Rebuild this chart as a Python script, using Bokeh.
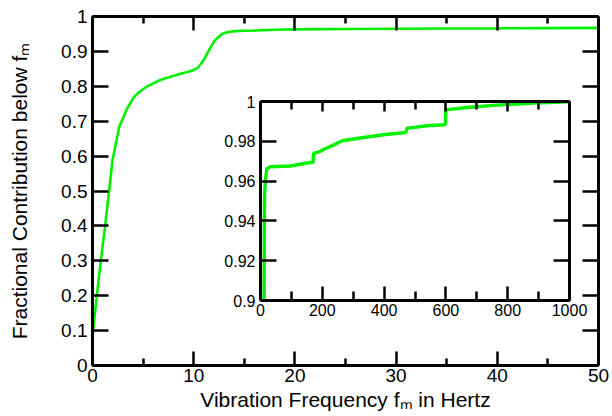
from bokeh.plotting import figure
from bokeh.models import FixedTicker, NumeralTickFormatter, LinearAxis, Range1d
from bokeh.embed import file_html
from bokeh.resources import INLINE

# ---- data ----
main_freq = [0, 0.06, 0.45, 0.82, 1.25, 1.64, 1.97, 2.3, 2.63, 3.0, 3.4, 3.78, 4.1, 4.6,
             5.2, 5.92, 6.7, 7.56, 8.7, 9.4, 10.0, 10.4, 10.7, 11.0, 11.5, 12.0, 12.4,
             12.8, 13.3, 14.1, 15.0, 16.1, 18.0, 20.0, 25.0, 30.0, 35.0, 40.0, 45.0, 50.0]
main_frac = [0.08, 0.10, 0.205, 0.30, 0.40, 0.50, 0.587, 0.635, 0.683, 0.708, 0.735, 0.754,
             0.769, 0.783, 0.796, 0.807, 0.818, 0.826, 0.836, 0.841, 0.847, 0.853, 0.864,
             0.876, 0.903, 0.928, 0.940, 0.950, 0.955, 0.958, 0.959, 0.960, 0.962, 0.963,
             0.964, 0.965, 0.9655, 0.966, 0.9668, 0.9675]

inset_freq = [11.5, 13.0, 16.0, 20.0, 32.0, 97.0, 151.0, 170.0, 172.0, 194.0, 210.0, 237.0,
              264.0, 312.0, 398.0, 470.0, 474.0, 539.0, 598.0, 600.0, 668.0, 777.0, 884.0, 1000.0]
inset_frac = [0.900, 0.952, 0.9605, 0.9662, 0.9672, 0.9676, 0.9691, 0.9694, 0.9739, 0.9750,
              0.9764, 0.9781, 0.9803, 0.9814, 0.9833, 0.9844, 0.9865, 0.9878, 0.9883, 0.9958,
              0.9970, 0.9983, 0.9992, 0.9999]

main_x_ticks = [0, 10, 20, 30, 40, 50]
main_x_minor = [5, 15, 25, 35, 45]
main_y_ticks = [0, 0.1, 0.2, 0.3, 0.4, 0.5, 0.6, 0.7, 0.8, 0.9, 1.0]
inset_x_ticks = [0, 200, 400, 600, 800, 1000]
inset_x_minor = [100, 300, 500, 700, 900]
inset_y_ticks = [0.9, 0.92, 0.94, 0.96, 0.98, 1.0]

x_label = "Vibration Frequency f\u2098 in Hertz"
y_label = "Fractional Contribution below f\u2098"

FONT = "Liberation Sans"
GREEN = "#00f000"


def style_axis(ax, tick_in, minor_in, font_size, standoff, show_labels=True):
    ax.axis_line_color = "black"
    ax.axis_line_width = 3
    ax.major_tick_line_color = "black"
    ax.major_tick_line_width = 2.5
    ax.minor_tick_line_color = "black"
    ax.minor_tick_line_width = 2.5
    ax.major_tick_in = tick_in
    ax.major_tick_out = 0
    ax.minor_tick_in = minor_in
    ax.minor_tick_out = 0
    ax.major_label_text_font = FONT
    ax.major_label_text_font_size = font_size
    ax.major_label_standoff = standoff
    ax.major_label_text_color = "black" if show_labels else None


# ---- main figure ----
p = figure(width=612, height=416, x_range=Range1d(0, 50), y_range=Range1d(0, 1),
           output_backend="svg", toolbar_location=None,
           min_border_left=92, min_border_right=14, min_border_top=16, min_border_bottom=51)
p.grid.visible = False
p.outline_line_color = None
p.background_fill_color = "white"
p.border_fill_color = "white"

p.xaxis.ticker = FixedTicker(ticks=main_x_ticks, minor_ticks=main_x_minor)
p.yaxis.ticker = FixedTicker(ticks=main_y_ticks, minor_ticks=[])
p.yaxis.formatter = NumeralTickFormatter(format="0.[0]")
style_axis(p.xaxis[0], 14, 7, "19px", 3)
style_axis(p.yaxis[0], 16, 0, "19px", 5)

for ax, lab, so in ((p.xaxis[0], x_label, 3), (p.yaxis[0], y_label, 27)):
    ax.axis_label = lab
    ax.axis_label_text_font = FONT
    ax.axis_label_text_font_size = "21px"
    ax.axis_label_text_font_style = "normal"
    ax.axis_label_text_color = "black"
    ax.axis_label_standoff = so

top = LinearAxis(ticker=FixedTicker(ticks=main_x_ticks, minor_ticks=main_x_minor))
style_axis(top, 14, 7, "19px", 0, show_labels=False)
p.add_layout(top, "above")
right = LinearAxis(ticker=FixedTicker(ticks=main_y_ticks, minor_ticks=[]))
style_axis(right, 16, 0, "19px", 0, show_labels=False)
p.add_layout(right, "right")

p.line(main_freq, main_frac, line_color=GREEN, line_width=2.6)

# ---- inset figure ----
q = figure(width=379, height=237, x_range=Range1d(0, 1000), y_range=Range1d(0.9, 1.0),
           output_backend="svg", toolbar_location=None,
           min_border_left=50, min_border_right=20, min_border_top=8, min_border_bottom=30)
q.grid.visible = False
q.outline_line_color = None
q.background_fill_color = "white"
q.border_fill_color = None

q.xaxis.ticker = FixedTicker(ticks=inset_x_ticks, minor_ticks=inset_x_minor)
q.yaxis.ticker = FixedTicker(ticks=inset_y_ticks, minor_ticks=[])
q.yaxis.formatter = NumeralTickFormatter(format="0.[00]")
style_axis(q.xaxis[0], 14, 9, "16px", 3)
style_axis(q.yaxis[0], 16, 0, "16px", 5)

qtop = LinearAxis(ticker=FixedTicker(ticks=inset_x_ticks, minor_ticks=inset_x_minor))
style_axis(qtop, 10, 8, "16px", 0, show_labels=False)
q.add_layout(qtop, "above")
qright = LinearAxis(ticker=FixedTicker(ticks=inset_y_ticks, minor_ticks=[]))
style_axis(qright, 16, 0, "16px", 0, show_labels=False)
q.add_layout(qright, "right")

q.line(inset_freq, inset_frac, line_color=GREEN, line_width=3.4)

q.styles = {"position": "absolute", "left": "210px", "top": "93px", "z-index": "2"}

open("out.html", "w").write(file_html([p, q], INLINE))
